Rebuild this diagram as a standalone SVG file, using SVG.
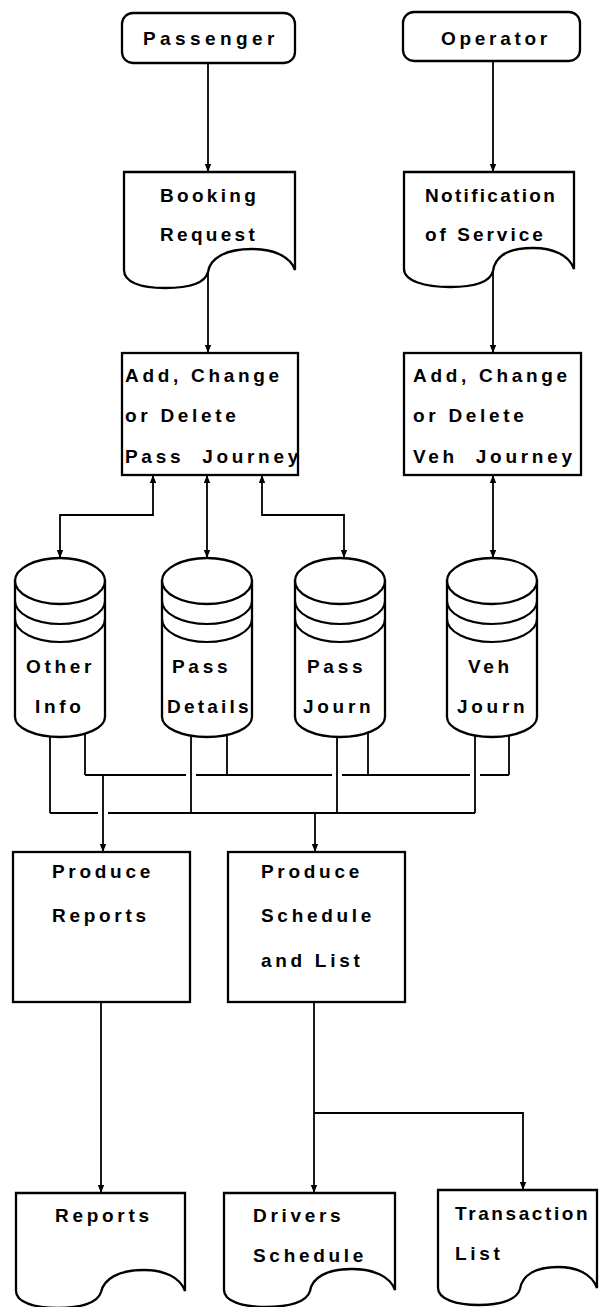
<svg xmlns="http://www.w3.org/2000/svg" width="600" height="1307" viewBox="0 0 600 1307">
  <style>
    .box { fill: #fff; stroke: #000; stroke-width: 2.3; }
    .wire { fill: none; stroke: #000; stroke-width: 1.8; }
    .ring { fill: none; stroke: #000; stroke-width: 2.1; }
    .t { font-family: "Liberation Sans", Arial, Helvetica, sans-serif; font-weight: bold; font-size: 19px; letter-spacing: 3.7px; fill: #000; }
  </style>
  <defs>
    <marker id="arrow" viewBox="0 0 8 8" refX="8" refY="4" markerWidth="8" markerHeight="8" markerUnits="userSpaceOnUse" orient="auto-start-reverse">
      <path d="M0,0.8 L8,4 L0,7.2 Z" fill="#000"/>
    </marker>
  </defs>
  <rect width="600" height="1307" fill="#fff"/>

  <!-- external entities -->
  <g id="passenger">
    <rect class="box" x="122" y="13" width="173" height="50" rx="11"/>
    <text class="t" x="143" y="45" style="letter-spacing:4.4px">Passenger</text>
  </g>
  <g id="operator">
    <rect class="box" x="403" y="12" width="177" height="49" rx="11"/>
    <text class="t" x="441" y="45">Operator</text>
  </g>

  <!-- input documents -->
  <g id="booking-request">
    <path class="box" d="M124,172 H295 V270 C290,256 273,249 252,249 C226,249 210,258 208,272 C205,284 187,288 165,288 C140,288 124,282 124,270 Z"/>
    <text class="t" x="160" y="202" style="letter-spacing:3.3px">Booking</text>
    <text class="t" x="160" y="241" style="letter-spacing:3.3px">Request</text>
  </g>
  <g id="notification-of-service">
    <path class="box" d="M404,172 H574 V269 C569,255 553,248 533,248 C507,248 495,257 493,271 C490,283 472,287 450,287 C425,287 404,281 404,269 Z"/>
    <text class="t" x="425" y="202" style="letter-spacing:2.3px">Notification</text>
    <text class="t" x="425" y="241" style="letter-spacing:3px">of Service</text>
  </g>

  <!-- update processes -->
  <g id="add-change-pass">
    <rect class="box" x="122" y="353" width="176" height="122"/>
    <text class="t" x="125" y="382">Add, Change</text>
    <text class="t" x="125" y="422">or Delete</text>
    <text class="t" x="125" y="463" xml:space="preserve">Pass  Journey</text>
  </g>
  <g id="add-change-veh">
    <rect class="box" x="404" y="353" width="177" height="122"/>
    <text class="t" x="413" y="382">Add, Change</text>
    <text class="t" x="413" y="422">or Delete</text>
    <text class="t" x="413" y="463" xml:space="preserve">Veh  Journey</text>
  </g>

  <!-- data stores -->
  <g id="store-other-info">
    <path class="box" d="M15,581 V717 A45,20 0 0 0 105,717 V581 Z"/>
    <ellipse class="box" cx="60" cy="581" rx="45" ry="23"/>
    <path class="ring" d="M15,601 A45,23 0 0 0 105,601 M15,619 A45,23 0 0 0 105,619"/>
    <text class="t" x="26" y="673">Other</text>
    <text class="t" x="35" y="713">Info</text>
  </g>
  <g id="store-pass-details">
    <path class="box" d="M162,581 V717 A45,20 0 0 0 252,717 V581 Z"/>
    <ellipse class="box" cx="207" cy="581" rx="45" ry="23"/>
    <path class="ring" d="M162,601 A45,23 0 0 0 252,601 M162,619 A45,23 0 0 0 252,619"/>
    <text class="t" x="172" y="673">Pass</text>
    <text class="t" x="167" y="713" style="letter-spacing:3.2px">Details</text>
  </g>
  <g id="store-pass-journ">
    <path class="box" d="M295,581 V717 A45,20 0 0 0 385,717 V581 Z"/>
    <ellipse class="box" cx="340" cy="581" rx="45" ry="23"/>
    <path class="ring" d="M295,601 A45,23 0 0 0 385,601 M295,619 A45,23 0 0 0 385,619"/>
    <text class="t" x="307" y="673">Pass</text>
    <text class="t" x="303" y="713">Journ</text>
  </g>
  <g id="store-veh-journ">
    <path class="box" d="M447,581 V717 A45,20 0 0 0 537,717 V581 Z"/>
    <ellipse class="box" cx="492" cy="581" rx="45" ry="23"/>
    <path class="ring" d="M447,601 A45,23 0 0 0 537,601 M447,619 A45,23 0 0 0 537,619"/>
    <text class="t" x="468" y="673">Veh</text>
    <text class="t" x="457" y="713">Journ</text>
  </g>

  <!-- output processes -->
  <g id="produce-reports">
    <rect class="box" x="13" y="852" width="177" height="150"/>
    <text class="t" x="52" y="878">Produce</text>
    <text class="t" x="52" y="922">Reports</text>
  </g>
  <g id="produce-schedule">
    <rect class="box" x="228" y="852" width="177" height="150"/>
    <text class="t" x="261" y="878">Produce</text>
    <text class="t" x="261" y="922">Schedule</text>
    <text class="t" x="261" y="967">and List</text>
  </g>

  <!-- output documents -->
  <g id="reports">
    <path class="box" d="M16,1193 H185 V1291 C180,1277 164,1270 144,1270 C118,1270 104,1279 101,1292 C98,1303 80,1308 58,1308 C34,1308 16,1302 16,1291 Z"/>
    <text class="t" x="55" y="1222">Reports</text>
  </g>
  <g id="drivers-schedule">
    <path class="box" d="M224,1193 H395 V1290 C390,1276 373,1269 352,1269 C326,1269 312,1278 310,1291 C307,1302 289,1307 266,1307 C242,1307 224,1301 224,1290 Z"/>
    <text class="t" x="253" y="1222">Drivers</text>
    <text class="t" x="253" y="1262">Schedule</text>
  </g>
  <g id="transaction-list">
    <path class="box" d="M438,1190 H597 V1288 C592,1274 577,1267 558,1267 C534,1267 522,1276 520,1289 C517,1300 500,1305 479,1305 C456,1305 438,1299 438,1288 Z"/>
    <text class="t" x="455" y="1220" style="letter-spacing:2.6px">Transaction</text>
    <text class="t" x="455" y="1260">List</text>
  </g>

  <!-- flows -->
  <g id="connectors" class="wire">
    <path class="wire" d="M208,63 V172" marker-end="url(#arrow)"/>
    <path class="wire" d="M493,61 V172" marker-end="url(#arrow)"/>
    <path class="wire" d="M208,272 V353" marker-end="url(#arrow)"/>
    <path class="wire" d="M493,271 V353" marker-end="url(#arrow)"/>

    <path class="wire" d="M153,475 V515 H60 V558" marker-start="url(#arrow)" marker-end="url(#arrow)"/>
    <path class="wire" d="M207,475 V558" marker-start="url(#arrow)" marker-end="url(#arrow)"/>
    <path class="wire" d="M262,475 V515 H344 V558" marker-start="url(#arrow)" marker-end="url(#arrow)"/>
    <path class="wire" d="M493,475 V558" marker-start="url(#arrow)" marker-end="url(#arrow)"/>

    <!-- store outlets to the two buses -->
    <path class="wire" d="M85,734 V775 M227,735 V775 M368,733 V775 M509,735 V775"/>
    <path class="wire" d="M50,736 V813 M191,736 V813 M337,737 V813 M475,736 V813"/>
    <path class="wire" d="M85,775 H186 M196,775 H332 M342,775 H470 M480,775 H509"/>
    <path class="wire" d="M50,813 H98 M108,813 H475"/>
    <path class="wire" d="M103,775 V852" marker-end="url(#arrow)"/>
    <path class="wire" d="M315,813 V852" marker-end="url(#arrow)"/>

    <path class="wire" d="M101,1002 V1193" marker-end="url(#arrow)"/>
    <path class="wire" d="M314,1002 V1193" marker-end="url(#arrow)"/>
    <path class="wire" d="M314,1113 H523 V1190" marker-end="url(#arrow)"/>
  </g>
</svg>
